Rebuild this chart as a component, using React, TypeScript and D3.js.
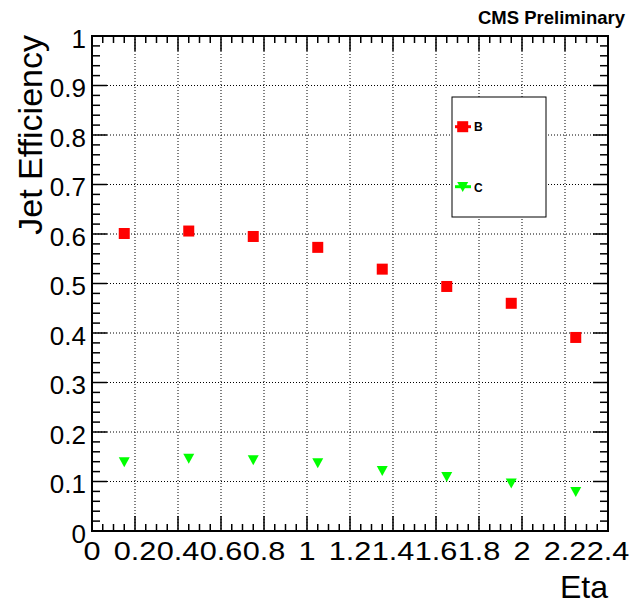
import React from "react";
import * as d3 from "d3";

const etaBins = [0.15, 0.45, 0.75, 1.05, 1.35, 1.65, 1.95, 2.25];
const bEff = [0.601, 0.606, 0.595, 0.573, 0.529, 0.494, 0.46, 0.391];
const cEff = [0.139, 0.146, 0.143, 0.137, 0.121, 0.109, 0.096, 0.079];
const xTickLabels = ["0", "0.2", "0.4", "0.6", "0.8", "1", "1.2", "1.4", "1.6", "1.8", "2", "2.2", "2.4"];
const yTickLabels = ["0", "0.1", "0.2", "0.3", "0.4", "0.5", "0.6", "0.7", "0.8", "0.9", "1"];
const legendLabels = ["B", "C"];

const W = 630;
const H = 606;
const FONT = "'Liberation Sans', Arial, Helvetica, sans-serif";

export default function App() {
  const left = 92, right = 608, top = 36, bottom = 531;
  const x = d3.scaleLinear().domain([0, 2.4]).range([left, right]);
  const y = d3.scaleLinear().domain([0, 1]).range([bottom, top]);

  const xMinor = d3.range(0, 49).map((i) => ({ v: i * 0.05, major: i % 4 === 0 }));
  const yMinor = d3.range(0, 51).map((i) => ({ v: i / 50, major: i % 5 === 0 }));

  const sq = 11;
  const tri = (cx: number, cy: number) => {
    const w = 11, h = 10;
    return `M${cx - w / 2},${cy - h / 2}L${cx + w / 2},${cy - h / 2}L${cx},${cy + h / 2}Z`;
  };

  return (
    <svg width={W} height={H} style={{ position: "absolute", left: 0, top: 0, background: "#fff" }}>
      <rect x={0} y={0} width={W} height={H} fill="#fff" />
      {/* grid */}
      <g stroke="#000" strokeWidth={1} strokeDasharray="1 2">
        {xTickLabels.map((_, i) => i).filter((i) => i > 0 && i < 12).map((i) => (
          <line key={"gx" + i} x1={x(i * 0.2)} x2={x(i * 0.2)} y1={top} y2={bottom} />
        ))}
        {yTickLabels.map((_, i) => i).filter((i) => i > 0 && i < 10).map((i) => (
          <line key={"gy" + i} x1={left} x2={right} y1={y(i * 0.1)} y2={y(i * 0.1)} />
        ))}
      </g>
      {/* ticks */}
      <g stroke="#000" strokeWidth={1.5}>
        {xMinor.map((t, i) => {
          const len = t.major ? 15 : 7;
          const px = x(t.v);
          return (
            <g key={"xt" + i}>
              <line x1={px} x2={px} y1={bottom} y2={bottom - len} />
              <line x1={px} x2={px} y1={top} y2={top + len} />
            </g>
          );
        })}
        {yMinor.map((t, i) => {
          const len = t.major ? 15 : 8;
          const py = y(t.v);
          return (
            <g key={"yt" + i}>
              <line x1={left} x2={left + len} y1={py} y2={py} />
              <line x1={right} x2={right - len} y1={py} y2={py} />
            </g>
          );
        })}
      </g>
      {/* frame */}
      <rect x={left} y={top} width={right - left} height={bottom - top} fill="none" stroke="#000" strokeWidth={2} />
      {/* tick labels */}
      <g fontFamily={FONT} fill="#000">
        {xTickLabels.map((s, i) => (
          <text key={"xl" + i} transform={`translate(${x(i * 0.2)},559.5) scale(1.18,1)`} textAnchor="middle" fontSize={26}>{s}</text>
        ))}
        {yTickLabels.map((s, i) => (
          <text key={"yl" + i} x={86} y={y(i * 0.1) + 11.5} textAnchor="end" fontSize={26}>{s}</text>
        ))}
      </g>
      {/* axis titles */}
      <text x={608} y={598} textAnchor="end" fontFamily={FONT} fontSize={32}>Eta</text>
      <text transform={`translate(42,35) rotate(-90)`} textAnchor="end" fontFamily={FONT} fontSize={34}>Jet Efficiency</text>
      <text x={625} y={24} textAnchor="end" fontFamily={FONT} fontWeight="bold" fontSize={18.5}>CMS Preliminary</text>
      {/* data */}
      <g fill="#ff0000">
        {etaBins.map((e, i) => (
          <rect key={"b" + i} x={x(e) - sq / 2} y={y(bEff[i]) - sq / 2} width={sq} height={sq} />
        ))}
      </g>
      <g fill="#00ff00">
        {etaBins.map((e, i) => (
          <path key={"c" + i} d={tri(x(e), y(cEff[i]))} />
        ))}
      </g>
      {/* legend */}
      <rect x={452} y={97} width={94} height={120} fill="#fff" stroke="#000" strokeWidth={1} />
      <g>
        <line x1={455} x2={471} y1={126.7} y2={126.7} stroke="#ff0000" strokeWidth={3} />
        <rect x={462.7 - 5.5} y={126.7 - 5.5} width={11} height={11} fill="#ff0000" />
        <text x={474} y={131} fontFamily={FONT} fontWeight="bold" fontSize={12}>{legendLabels[0]}</text>
        <line x1={455} x2={471} y1={186.7} y2={186.7} stroke="#00ff00" strokeWidth={3} />
        <path d={tri(462.7, 187)} fill="#00ff00" />
        <text x={474} y={192} fontFamily={FONT} fontWeight="bold" fontSize={12}>{legendLabels[1]}</text>
      </g>
    </svg>
  );
}
